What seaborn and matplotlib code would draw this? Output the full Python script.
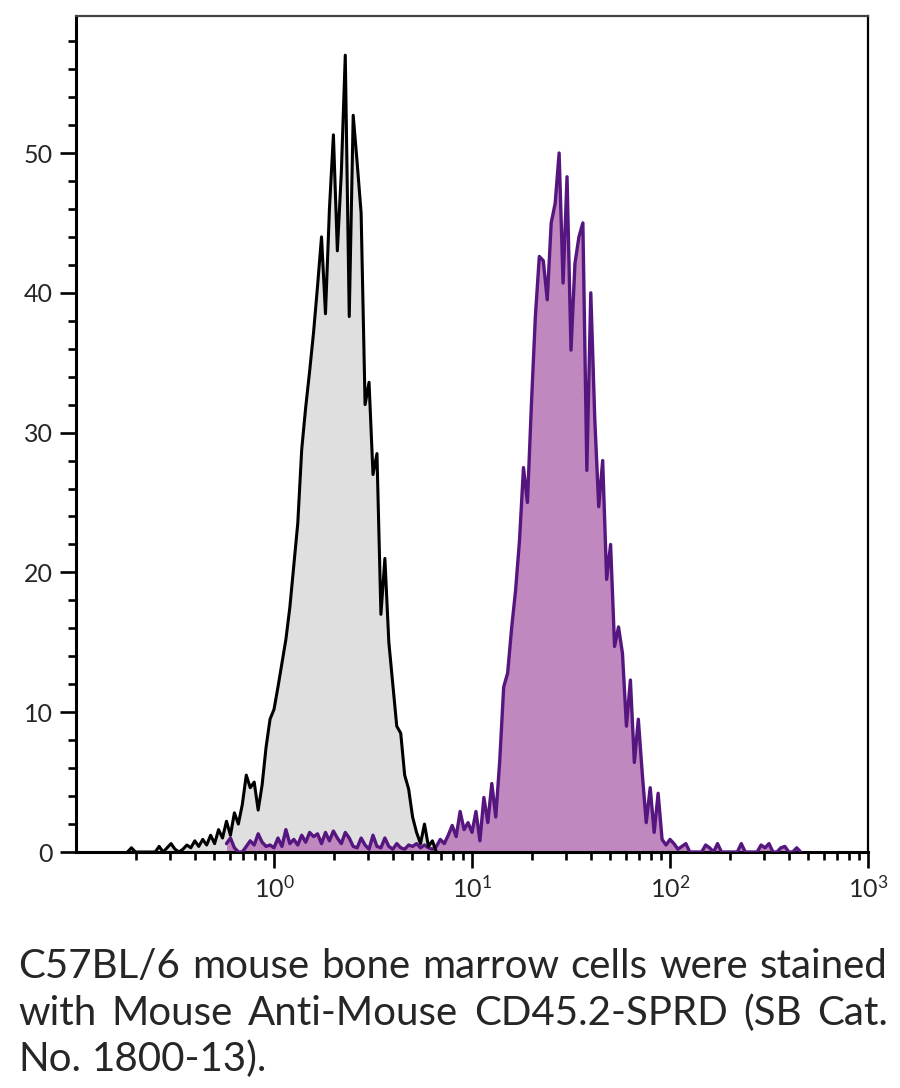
import numpy as np
import pandas as pd
import matplotlib
matplotlib.use("Agg")
import matplotlib.pyplot as plt
import seaborn as sns
from matplotlib.ticker import FixedLocator, LogFormatterMathtext, NullFormatter

# channel scale: first channel (log10) and channel width in decades
gray_start = -0.74
purple_start = -0.24
channel_step = 0.02

# unstained control (gray) counts per channel
gray_counts = [
    0, 0.3, 0, 0, 0, 0, 0, 0, 0.4, 0,
    0.3, 0.6, 0.2, 0, 0.2, 0.5, 0.3, 0.8, 0.4, 0.9,
    0.5, 1.2, 0.6, 1.6, 1.0, 2.2, 1.2, 2.8, 2.0, 3.4,
    5.5, 4.6, 5.0, 3.0, 4.8, 7.5, 9.5, 10.2, 11.8, 13.5,
    15.2, 17.5, 20.5, 23.5, 28.8, 31.8, 34.4, 37.2, 40.5, 44,
    38.5, 46, 51.3, 43, 48.6, 57, 38.3, 52.7, 49.3, 45.7,
    32, 33.6, 27, 28.5, 17, 21, 15, 12, 9, 8.5,
    5.5, 4.5, 2.5, 1.4, 0.6, 2.0, 0.4, 0.8, 0,
]

# CD45.2-SPRD stained (purple) counts per channel
purple_counts = [
    0.6, 1.0, 0.3, 0, 0, 0.4, 0.8, 0.5, 1.3, 0.7,
    0.4, 0.5, 0.3, 1.0, 0.4, 1.6, 0.6, 0.9, 0.5, 1.2,
    0.7, 1.4, 1.1, 1.3, 0.6, 1.4, 0.8, 1.5, 1.0, 0.6,
    1.4, 1.0, 0.4, 0.3, 1.0, 0.5, 0.2, 1.2, 0.4, 0.3,
    1.0, 0.4, 0.2, 0.6, 0.3, 0.2, 0.5, 0.4, 0.6, 0.3,
    0.5, 0.3, 0.2, 0.4, 0.9, 0.6, 1.2, 1.9, 1.1, 2.9,
    1.6, 2.1, 1.4, 2.9, 0.8, 3.9, 2.1, 4.9, 2.5, 6.5,
    11.8, 12.8, 16, 18.7, 22.3, 27.5, 25, 32, 38.3, 42.6,
    42.3, 39.5, 45, 46.4, 50, 40.7, 48.3, 35.9, 42.1, 44,
    45, 27.3, 40, 31, 24.7, 28, 19.5, 22, 14.7, 16.1,
    14.2, 9, 12.3, 6.4, 9.5, 5.6, 2.1, 4.6, 1.4, 4.2,
    0.9, 0.5, 0.9, 0.6, 0.2, 0.4, 0.6, 0, 0, 0,
    0, 0.5, 0.3, 0, 0.6, 0, 0, 0, 0, 0,
    0.6, 0, 0, 0, 0, 0.5, 0.3, 0.6, 0, 0,
    0.3, 0.4, 0, 0, 0.3, 0,
]

x_major = [1, 10, 100, 1000]
y_major = [0, 10, 20, 30, 40, 50]

caption_lines = [
    "C57BL/6 mouse bone marrow cells were stained",
    "with Mouse Anti-Mouse CD45.2-SPRD (SB Cat.",
    "No. 1800-13).",
]

gray_fill, gray_line = "#e0dfe0", "#000000"
purple_fill, purple_line = "#c088be", "#561680"


def channels(start, counts):
    return 10 ** (start + channel_step * np.arange(len(counts)))


df = pd.concat([
    pd.DataFrame({"fluor": channels(gray_start, gray_counts), "count": gray_counts, "sample": "control"}),
    pd.DataFrame({"fluor": channels(purple_start, purple_counts), "count": purple_counts, "sample": "stained"}),
])

sns.set_style("ticks")
plt.rcParams["font.family"] = ["Lato", "DejaVu Sans"]
plt.rcParams["mathtext.default"] = "regular"

W, H = 900, 1088
fig = plt.figure(figsize=(W / 100, H / 100), dpi=100)
ax = fig.add_axes([76 / W, 1 - 852 / H, 792 / W, 836 / H])
ax.set_xscale("log")

g = df[df["sample"] == "control"]
p = df[df["sample"] == "stained"]
ax.fill_between(g["fluor"], g["count"], color=gray_fill, lw=0, zorder=1)
ax.fill_between(p["fluor"], p["count"], color=purple_fill, lw=0, zorder=2)
sns.lineplot(data=p, x="fluor", y="count", color=purple_line, lw=2.4,
             estimator=None, sort=False, ax=ax, zorder=3)
sns.lineplot(data=g, x="fluor", y="count", color=gray_line, lw=2.2,
             estimator=None, sort=False, ax=ax, zorder=4)

ax.set_xlim(0.1, 1000)
ax.set_ylim(0, 59.8)
ax.set_xlabel("")
ax.set_ylabel("")

ax.xaxis.set_major_locator(FixedLocator(x_major))
ax.xaxis.set_major_formatter(LogFormatterMathtext())
minors = [m * 10.0 ** d for d in range(-1, 3) for m in range(2, 10)]
ax.xaxis.set_minor_locator(FixedLocator(minors))
ax.xaxis.set_minor_formatter(NullFormatter())
ax.yaxis.set_major_locator(FixedLocator(y_major))
ax.yaxis.set_minor_locator(FixedLocator(list(range(2, 60, 2))))

ax.tick_params(which="major", length=11.5, width=1.9, labelsize=18, pad=5, color="black")
ax.tick_params(which="minor", length=5.5, width=1.9, color="black")

for side in ["left", "bottom"]:
    ax.spines[side].set_linewidth(2.2)
    ax.spines[side].set_color("black")
ax.spines["right"].set_linewidth(1.6)
ax.spines["right"].set_color("black")
ax.spines["top"].set_linewidth(1.6)
ax.spines["top"].set_color("#444444")


def caption_line(text, y_px, justify, size=29):
    words = text.split(" ")
    x0, x1 = 18, 888
    r = fig.canvas.get_renderer()
    objs = [fig.text(0, 1 - y_px / H, w, fontsize=size, va="baseline", ha="left") for w in words]
    widths = [o.get_window_extent(r).width for o in objs]
    if justify:
        gap = (x1 - x0 - sum(widths)) / (len(words) - 1)
    else:
        a = fig.text(0, 0, "a a", fontsize=size)
        b = fig.text(0, 0, "aa", fontsize=size)
        gap = a.get_window_extent(r).width - b.get_window_extent(r).width
        a.remove()
        b.remove()
    x = x0
    for o, w in zip(objs, widths):
        o.set_x(x / W)
        x += w + gap


fig.canvas.draw()
caption_line(caption_lines[0], 978, True)
caption_line(caption_lines[1], 1025, True)
caption_line(caption_lines[2], 1071, False)

fig.savefig("out.png", dpi=100)
